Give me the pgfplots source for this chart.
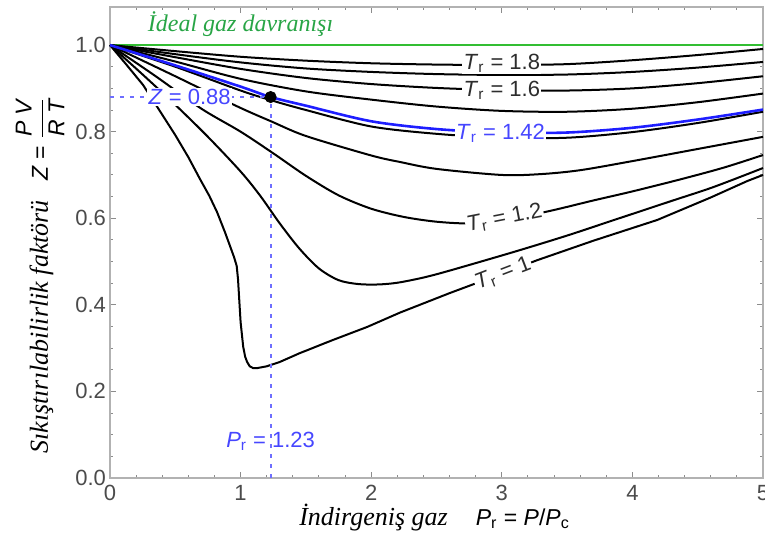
\documentclass[border=0pt]{standalone}
\usepackage{fontspec}
\setmainfont{Liberation Sans}
\newfontfamily\trserif{Liberation Serif}
\usepackage{pgfplots}
\pgfplotsset{compat=1.18}
\definecolor{idealgreen}{RGB}{50,190,50}
\definecolor{idealtext}{RGB}{40,165,70}
\definecolor{trblue}{RGB}{30,30,255}
\definecolor{lblblue}{RGB}{70,70,255}
\definecolor{dotblue}{RGB}{110,110,255}
\definecolor{ticktext}{RGB}{75,75,75}
\definecolor{curvetext}{RGB}{45,45,45}
\begin{document}
\begin{tikzpicture}
\begin{axis}[
  scale only axis, width=326.5pt, height=235.5pt,
  xmin=0, xmax=5, ymin=0, ymax=1.088,
  xtick={0,1,2,3,4,5}, ytick={0,0.2,0.4,0.6,0.8,1.0},
  minor x tick num=4, minor y tick num=3,
  tick align=inside,
  major tick length=3pt, minor tick length=1.6pt,
  axis line style={black!30, line width=0.6pt},
  tick style={black!45, line width=0.5pt},
  /pgf/number format/assume math mode=true,
  tick label style={font=\fontsize{11}{13}\selectfont, text=ticktext},
  y tick label style={/pgf/number format/.cd, fixed, fixed zerofill, precision=1, /tikz/.cd, xshift=1.5pt},
  clip=false,
]
% ideal gas
\addplot[idealgreen, line width=1.4pt] coordinates {(0,1) (5,1)};
% Tr = 1.8
\addplot[black, line width=1pt, smooth] coordinates {(0,1)(0.5,0.986)(1.0,0.973)(1.5,0.964)(2.0,0.958)(2.5,0.955)(3.0,0.954)(3.5,0.956)(4.0,0.965)(4.5,0.977)(5,0.991)};
% Tr = 1.7
\addplot[black, line width=1pt, smooth] coordinates {(0,1)(0.5,0.979)(1.0,0.96)(1.5,0.946)(2.0,0.938)(2.5,0.933)(3.0,0.931)(3.5,0.932)(4.0,0.938)(4.5,0.948)(5,0.961)};
% Tr = 1.6
\addplot[black, line width=1pt, smooth] coordinates {(0,1)(0.5,0.972)(1.0,0.945)(1.5,0.924)(2.0,0.91)(2.5,0.901)(3.0,0.896)(3.5,0.895)(4.0,0.900)(4.5,0.912)(5,0.928)};
% Tr = 1.5
\addplot[black, line width=1pt, smooth] coordinates {(0,1)(0.5,0.962)(1.0,0.922)(1.5,0.893)(2.0,0.874)(2.5,0.858)(3.0,0.848)(3.5,0.846)(4.0,0.853)(4.5,0.868)(5,0.888)};
% Tr = 1.4
\addplot[black, line width=1pt, smooth] coordinates {(0,1)(0.5,0.95)(1.0,0.895)(1.24,0.872)(1.5,0.85)(2.0,0.812)(2.5,0.795)(3.0,0.786)(3.5,0.786)(4.0,0.799)(4.5,0.82)(5,0.846)};
% Tr = 1.3
\addplot[black, line width=1pt, smooth] coordinates {(0,1)(0.5,0.928)(0.97,0.859)(1.24,0.823)(1.5,0.79)(2.0,0.745)(2.22,0.73)(2.5,0.714)(3.0,0.70)(3.3,0.702)(3.6,0.711)(4.0,0.732)(4.5,0.76)(5,0.788)};
% Tr = 1.2
\addplot[black, line width=1pt, smooth] coordinates {(0,1)(0.35,0.928)(0.7,0.853)(1.0,0.80)(1.25,0.75)(1.5,0.698)(1.75,0.653)(2.0,0.622)(2.25,0.603)(2.5,0.592)(2.75,0.588)(3.0,0.594)(3.37,0.617)(3.7,0.641)(4.0,0.662)(4.37,0.69)(4.7,0.717)(5,0.746)};
% Tr = 1.1
\addplot[black, line width=1pt, smooth] coordinates {(0,1)(0.25,0.932)(0.5,0.862)(0.75,0.788)(1.0,0.708)(1.15,0.652)(1.3,0.588)(1.45,0.53)(1.6,0.484)(1.75,0.457)(1.9,0.448)(2.05,0.447)(2.2,0.451)(2.4,0.463)(2.6,0.479)(3.09,0.522)(3.5,0.56)(3.86,0.596)(4.3,0.64)(4.62,0.672)(5,0.716)};
% Tr = 1.0
\addplot[black, line width=1pt] coordinates {(0,1)(0.125,0.955)(0.253,0.908)(0.36,0.858)(0.5,0.792)(0.6,0.741)(0.69,0.69)(0.76,0.652)(0.82,0.614)(0.88,0.568)(0.92,0.535)(0.95,0.51)(0.97,0.49)(0.98,0.46)(0.99,0.41)(1.0,0.36)(1.02,0.303)(1.035,0.28)(1.05,0.268)(1.07,0.258)(1.095,0.254)(1.13,0.254)(1.2,0.258)(1.3,0.268)(1.45,0.288)(1.7,0.318)(1.97,0.349)(2.22,0.382)(2.6,0.427)(3.0,0.472)(3.27,0.503)(3.7,0.548)(4.19,0.596)(4.6,0.648)(4.88,0.686)(5,0.70)};
% Tr = 1.42 (blue)
\addplot[trblue, line width=1.3pt, smooth] coordinates {(0,1)(0.5,0.953)(1.0,0.904)(1.23,0.88)(1.5,0.86)(2.0,0.824)(2.5,0.806)(3.0,0.798)(3.5,0.798)(4.0,0.809)(4.5,0.828)(5,0.851)};
% dotted guides
\addplot[dotblue, line width=1pt, dash pattern=on 2.2pt off 2.8pt] coordinates {(0,0.88) (1.23,0.88)};
\addplot[dotblue, line width=1pt, dash pattern=on 2.2pt off 2.8pt] coordinates {(1.23,0) (1.23,0.88)};
\addplot[black, only marks, mark=*, mark size=2.8pt] coordinates {(1.23,0.88)};
% labels
\node[fill=white, inner sep=0.6pt, font=\fontsize{11}{13}\selectfont, text=curvetext] at (axis cs:3.0,0.958) {\textit{T}\textsubscript{r} = 1.8};
\node[fill=white, inner sep=0.6pt, font=\fontsize{11}{13}\selectfont, text=curvetext] at (axis cs:3.0,0.896) {\textit{T}\textsubscript{r} = 1.6};
\node[fill=white, inner sep=0.8pt, font=\fontsize{11}{13}\selectfont, text=lblblue] at (axis cs:2.99,0.797) {\textit{T}\textsubscript{r} = 1.42};
\node[fill=white, inner sep=0.6pt, rotate=11, font=\fontsize{11}{13}\selectfont, text=curvetext] at (axis cs:3.02,0.600) {\textit{T}\textsubscript{r} = 1.2};
\node[fill=white, inner sep=0.5pt, rotate=21, font=\fontsize{11}{13}\selectfont, text=curvetext] at (axis cs:3.01,0.472) {\textit{T}\textsubscript{r} = 1};
\node[fill=white, inner sep=0.8pt, font=\fontsize{11}{13}\selectfont, text=lblblue] at (axis cs:0.61,0.88) {\textit{Z} = 0.88};
\node[font=\fontsize{11}{13}\selectfont, text=lblblue] at (axis cs:1.23,0.085) {\textit{P}\textsubscript{r} = 1.23};
\node[font=\trserif\itshape\fontsize{12}{14}\selectfont, text=idealtext] at (axis cs:1.0,1.048) {İdeal gaz davranışı};
% axis titles
\node[anchor=center] at (rel axis cs:0.497,-0.083) {{\trserif\itshape\fontsize{13}{15}\selectfont İndirgeniş gaz}\hspace{14pt}{\fontsize{11.5}{13}\selectfont\textit{P}\textsubscript{r} = \textit{P}/\textit{P}\textsubscript{c}}};
\node[rotate=90, anchor=center] at (rel axis cs:-0.107,0.43) {{\trserif\itshape\fontsize{13}{15}\selectfont Sıkıştırılabilirlik faktörü}\hspace{10pt}{\fontsize{11.5}{13}\selectfont\textit{Z} = $\displaystyle\frac{\textit{P V}}{\textit{R T}}$}};
\end{axis}
\pgfresetboundingbox
\path ([xshift=-55pt,yshift=-35.5pt]current axis.south west) rectangle ([xshift=1pt,yshift=3.5pt]current axis.north east);
\end{tikzpicture}
\end{document}
